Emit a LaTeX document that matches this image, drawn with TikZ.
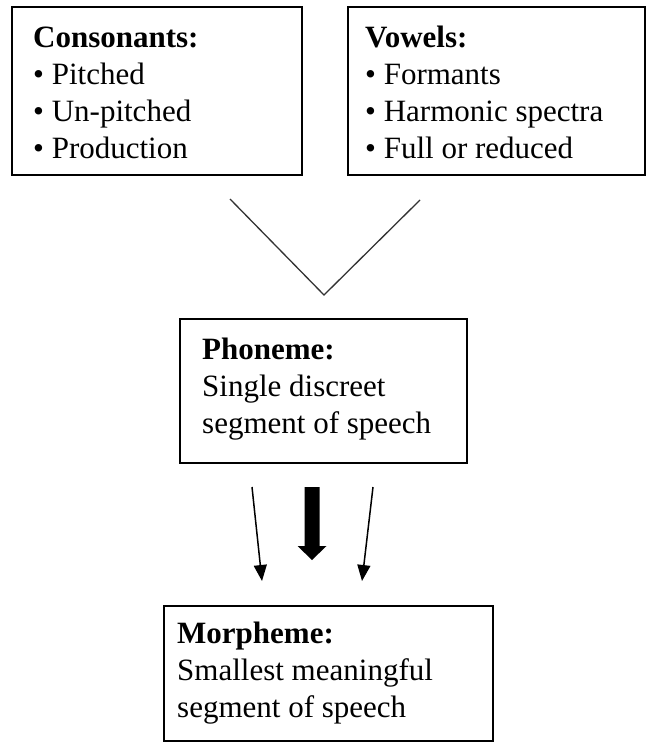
\documentclass[tikz,border=0pt]{standalone}
\usepackage{fontspec}
\setmainfont{Liberation Serif}
\usetikzlibrary{arrows.meta}
\begin{document}
\begin{tikzpicture}[x=1pt,y=-1pt,
  box/.style={draw=black,line width=2pt,rectangle,inner sep=0pt},
  txt/.style={anchor=base west,align=left,inner sep=0pt,font=\fontsize{31}{37}\selectfont},
  vline/.style={draw=black!80,line width=1.3pt},
  thin/.style={draw=black,line width=1.5pt,-{Triangle[width=13pt,length=16pt]}}]
\useasboundingbox (0,0) rectangle (651,749);
\fill[white] (0,0) rectangle (651,749);
% boxes
\node[box,minimum width=290pt,minimum height=168pt] (cons) at (157,91) {};
\node[box,minimum width=297pt,minimum height=168pt] (vow) at (496.5,91) {};
\node[box,minimum width=287pt,minimum height=144pt] (phon) at (323.5,391) {};
\node[box,minimum width=329pt,minimum height=135pt] (morph) at (328.5,673.5) {};
% texts (anchored at the baseline of the last line)
\node[txt] (constxt) at (33,158) {\textbf{Consonants:}\\• Pitched\\• Un-pitched\\• Production};
\node[txt] (vowtxt) at (365,158) {\textbf{Vowels:}\\• Formants\\• Harmonic spectra\\• Full or reduced};
\node[txt] (phontxt) at (202,433) {\textbf{Phoneme:}\\Single discreet\\segment of speech};
\node[txt] (morphtxt) at (177,717) {\textbf{Morpheme:}\\Smallest meaningful\\segment of speech};
% V lines
\coordinate (vl) at (230,199);
\coordinate (vr) at (420,200);
\coordinate (vb) at (324,295);
\draw[vline] (vl) -- (vb) -- (vr);
% thin arrows
\coordinate (a1s) at (252,487);
\coordinate (a1e) at (262,581);
\coordinate (a2s) at (373,487);
\coordinate (a2e) at (362,581);
\draw[thin] (a1s) -- (a1e);
\draw[thin] (a2s) -- (a2e);
% thick arrow
\fill[black] (304.5,487) -- (319.5,487) -- (319.5,546) -- (326.5,546) -- (312,560) -- (297.5,546) -- (304.5,546) -- cycle;
\end{tikzpicture}
\end{document}
